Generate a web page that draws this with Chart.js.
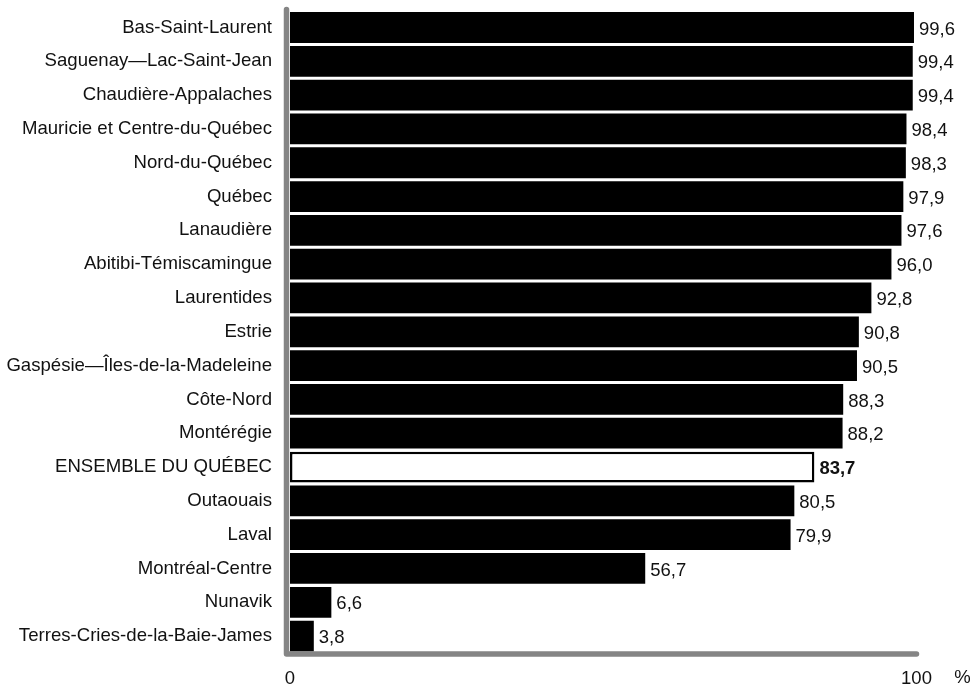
<!DOCTYPE html>
<html>
<head>
<meta charset="utf-8">
<script src="https://cdn.jsdelivr.net/npm/chart.js@4/dist/chart.umd.min.js"></script>
<style>
html,body{margin:0;padding:0;background:#fff;}
#wrap{width:970px;height:687px;position:relative;}
</style>
</head>
<body>
<div id="wrap"><canvas id="c" width="970" height="687"></canvas></div>
<script>
const categories = [
  "Bas-Saint-Laurent","Saguenay\u2014Lac-Saint-Jean","Chaudi\u00e8re-Appalaches",
  "Mauricie et Centre-du-Qu\u00e9bec","Nord-du-Qu\u00e9bec","Qu\u00e9bec","Lanaudi\u00e8re",
  "Abitibi-T\u00e9miscamingue","Laurentides","Estrie","Gasp\u00e9sie\u2014\u00celes-de-la-Madeleine",
  "C\u00f4te-Nord","Mont\u00e9r\u00e9gie","ENSEMBLE DU QU\u00c9BEC","Outaouais","Laval",
  "Montr\u00e9al-Centre","Nunavik","Terres-Cries-de-la-Baie-James"
];
const values = [99.6,99.4,99.4,98.4,98.3,97.9,97.6,96.0,92.8,90.8,90.5,88.3,88.2,83.7,80.5,79.9,56.7,6.6,3.8];
const highlightIndex = 13;
const xTicks = [0, 100];
const unitLabel = "%";

const FONT = "'Liberation Sans', Arial, sans-serif";
const AXIS_COLOR = "#858585";

const axisPlugin = {
  id: 'axisLines',
  afterDatasetsDraw(chart) {
    const ctx = chart.ctx;
    const xs = chart.scales.x;
    const x0 = xs.getPixelForValue(0) - 3.5;
    const xEnd = xs.getPixelForValue(100);
    const top = chart.chartArea.top - 1;
    const bottom = chart.chartArea.bottom + 1;
    ctx.save();
    ctx.strokeStyle = AXIS_COLOR;
    ctx.lineWidth = 5.5;
    ctx.lineCap = 'round';
    ctx.lineJoin = 'round';
    ctx.beginPath();
    ctx.moveTo(x0, top);
    ctx.lineTo(x0, bottom);
    ctx.lineTo(xEnd, bottom);
    ctx.stroke();
    ctx.restore();
  }
};

const labelPlugin = {
  id: 'valueLabels',
  afterDatasetsDraw(chart) {
    const ctx = chart.ctx;
    const meta = chart.getDatasetMeta(0);
    const xs = chart.scales.x;
    ctx.save();
    ctx.fillStyle = '#111';
    ctx.textBaseline = 'middle';
    ctx.textAlign = 'left';
    meta.data.forEach((bar, i) => {
      const bold = i === highlightIndex;
      ctx.font = (bold ? 'bold ' : '') + '18.5px ' + FONT;
      const txt = values[i].toFixed(1).replace('.', ',');
      ctx.fillText(txt, xs.getPixelForValue(values[i]) + 5, bar.y + 2);
    });
    ctx.font = '18.5px ' + FONT;
    ctx.textAlign = 'center';
    ctx.fillText(unitLabel, xs.getPixelForValue(100) + 46, chart.chartArea.bottom + 25);
    ctx.restore();
  }
};

new Chart(document.getElementById('c'), {
  type: 'bar',
  data: {
    labels: categories,
    datasets: [{
      data: values,
      backgroundColor: values.map((v, i) => i === highlightIndex ? '#ffffff' : '#000000'),
      borderColor: '#000000',
      borderWidth: values.map((v, i) => i === highlightIndex ? 2.5 : 0),
      barPercentage: 0.91,
      categoryPercentage: 1.0,
      borderSkipped: false
    }]
  },
  options: {
    indexAxis: 'y',
    responsive: false,
    animation: false,
    devicePixelRatio: 1,
    layout: { padding: { top: 10.6, right: 53.5, bottom: 0, left: 0 } },
    plugins: { legend: { display: false }, tooltip: { enabled: false } },
    scales: {
      x: {
        min: 0, max: 100,
        afterBuildTicks(scale) { scale.ticks = xTicks.map(v => ({ value: v })); },
        afterFit(scale) { scale.height = 34; scale.paddingLeft = 0; scale.paddingRight = 0; },
        grid: { display: false, drawTicks: false },
        border: { display: false },
        ticks: {
          padding: 15,
          color: '#111',
          font: { family: FONT, size: 18.5 },
          maxRotation: 0,
          callback: v => String(v)
        }
      },
      y: {
        afterFit(scale) { scale.width = 290; scale.paddingTop = 0; scale.paddingBottom = 0; },
        grid: { display: false, drawTicks: false },
        border: { display: false },
        ticks: {
          padding: 18,
          color: '#111',
          font: { family: FONT, size: 18.6 },
          autoSkip: false
        }
      }
    }
  },
  plugins: [axisPlugin, labelPlugin]
});
</script>
</body>
</html>
